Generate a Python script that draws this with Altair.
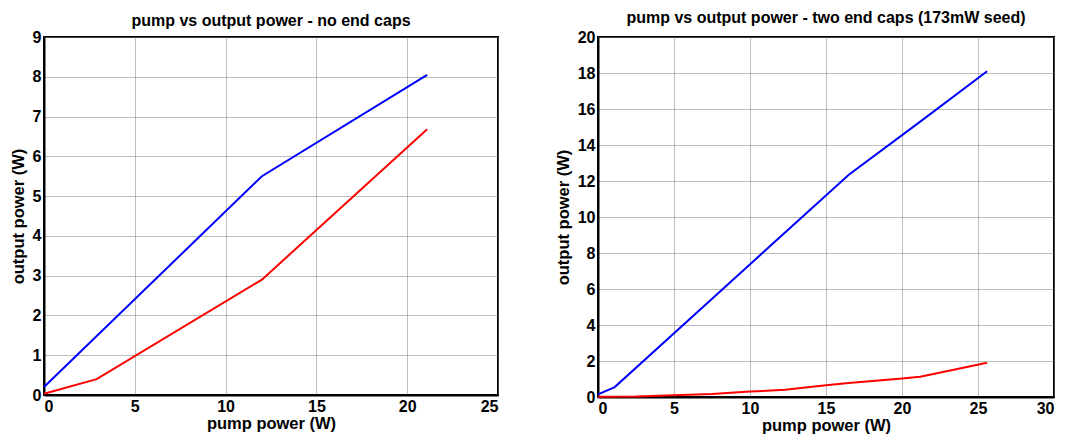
import altair as alt
import pandas as pd

# Left panel: no end caps
l_blue_x = [0, 12, 21.1]
l_blue_y = [0.2, 5.5, 8.05]
l_red_x = [0, 2.9, 12, 21.1]
l_red_y = [0.03, 0.4, 2.9, 6.68]

# Right panel: two end caps (173mW seed)
r_blue_x = [0, 1.1, 16.5, 21.2, 25.6]
r_blue_y = [0.15, 0.55, 12.35, 15.3, 18.1]
r_red_x = [0, 2.5, 5, 7.5, 10, 12.3, 15, 16.5, 20, 21.2, 25.6]
r_red_y = [0.02, 0.03, 0.1, 0.16, 0.3, 0.4, 0.65, 0.78, 1.03, 1.12, 1.9]

left_x_ticks = [0, 5, 10, 15, 20, 25]
left_y_ticks = list(range(0, 10))
right_x_ticks = [0, 5, 10, 15, 20, 25, 30]
right_y_ticks = list(range(0, 21, 2))

FONT = "Liberation Sans"


def frame(xs_b, ys_b, xs_r, ys_r):
    rows = []
    for x, y in zip(xs_b, ys_b):
        rows.append({"x": x, "y": y, "s": "blue", "o": len(rows)})
    for x, y in zip(xs_r, ys_r):
        rows.append({"x": x, "y": y, "s": "red", "o": len(rows)})
    return pd.DataFrame(rows)


def panel(df, title, toff, xdom, ydom, xt, yt, w, h):
    return alt.Chart(df, title=alt.Title(title, offset=toff)).mark_line(strokeWidth=2).encode(
        x=alt.X("x:Q", title="pump power (W)",
                scale=alt.Scale(domain=xdom, nice=False, zero=False),
                axis=alt.Axis(values=xt, format="d")),
        y=alt.Y("y:Q", title="output power (W)",
                scale=alt.Scale(domain=ydom, nice=False, zero=False),
                axis=alt.Axis(values=yt, format="d")),
        color=alt.Color("s:N", scale=alt.Scale(domain=["blue", "red"], range=["#0000ff", "#ff0000"]), legend=None),
        order="o:Q",
    ).properties(width=w, height=h)


left = panel(frame(l_blue_x, l_blue_y, l_red_x, l_red_y),
             "pump vs output power - no end caps", 0, [0, 25], [0, 9],
             left_x_ticks, left_y_ticks, 454, 358)
right = panel(frame(r_blue_x, r_blue_y, r_red_x, r_red_y),
              "pump vs output power - two end caps (173mW seed)", 3.5, [0, 30], [0, 20],
              right_x_ticks, right_y_ticks, 456, 360)

chart = alt.hconcat(left, right, spacing=55).properties(
    padding={"left": 9, "top": 8, "right": 0, "bottom": 2}
).configure_view(stroke="black", strokeWidth=2).configure_axis(
    labelFont=FONT, labelFontSize=16, labelFontWeight="bold", labelColor="black",
    titleFont=FONT, titleFontSize=16.5, titleFontWeight="bold", titleColor="black",
    gridColor="#7a7a7a", gridDash=[1, 1], gridWidth=1, gridOpacity=1,
    domainColor="black", domainWidth=2, ticks=False, labelPadding=3,
).configure_axisX(titlePadding=1).configure_axisY(titlePadding=6).configure_title(
    font=FONT, fontSize=16, fontWeight="bold", color="black", anchor="middle"
)

chart.save("out.html", embed_options={"renderer": "svg", "actions": False})
